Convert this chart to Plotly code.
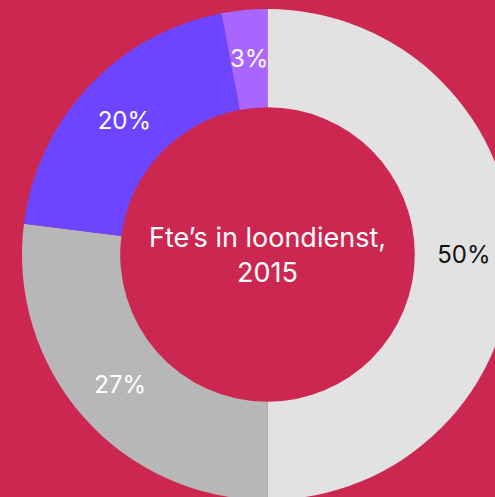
import math
import plotly.graph_objects as go

labels = ["Categorie A", "Categorie B", "Categorie C", "Categorie D"]
values = [50, 27, 20, 3]
colors = ["#e2e2e2", "#b7b7b7", "#6e45ff", "#a866ff"]
text_colors = ["#111111", "#ffffff", "#ffffff", "#ffffff"]
center_title = "Fte’s in loondienst,<br>2015"

BG = "#cc2750"
W, H = 535, 509
R = 245.5
HOLE = 0.6
LABEL_SIZE = 24

total = sum(values)
pct_text = [f"{round(v / total * 100)}%" for v in values]
# the last (thin) slice label is placed as an annotation at the slice's middle
slice_text = pct_text[:-1] + [""]

fig = go.Figure(go.Pie(
    labels=labels,
    values=values,
    hole=HOLE,
    sort=False,
    direction="clockwise",
    rotation=0,
    marker=dict(colors=colors, line=dict(width=0)),
    text=slice_text,
    textinfo="text",
    textposition="inside",
    insidetextorientation="horizontal",
    textfont=dict(family="Inter", size=LABEL_SIZE, color=text_colors),
    domain=dict(x=[0, 1], y=[0.5 - R / H, 0.5 + R / H]),
    showlegend=False,
    hoverinfo="label+percent",
))

# label of last slice: middle angle from cumulative values
cum_before = sum(values[:-1])
mid_frac = (cum_before + values[-1] / 2) / total
ang = 2 * math.pi * mid_frac
r_mid = R * (1 + HOLE) / 2
fig.add_annotation(
    text=pct_text[-1], xref="paper", yref="paper",
    x=0.5 + r_mid * math.sin(ang) / W, y=0.5 + r_mid * math.cos(ang) / H,
    xanchor="center", yanchor="middle",
    showarrow=False, font=dict(family="Inter", size=LABEL_SIZE, color=text_colors[-1]),
)

fig.add_annotation(
    text=center_title, x=0.5, y=0.5, xref="paper", yref="paper",
    xanchor="center", yanchor="middle",
    showarrow=False, font=dict(family="Inter", size=27, color="#ffffff"),
    align="center",
)

fig.update_layout(
    width=W, height=H,
    margin=dict(l=0, r=0, t=0, b=0),
    paper_bgcolor=BG, plot_bgcolor=BG,
    uniformtext=dict(minsize=LABEL_SIZE, mode="show"),
)

fig.write_html(
    "out.html",
    config={"displayModeBar": False},
    post_script="document.body.style.margin='0';document.body.style.overflow='hidden';document.documentElement.style.overflow='hidden';document.body.style.background='" + BG + "';",
)
